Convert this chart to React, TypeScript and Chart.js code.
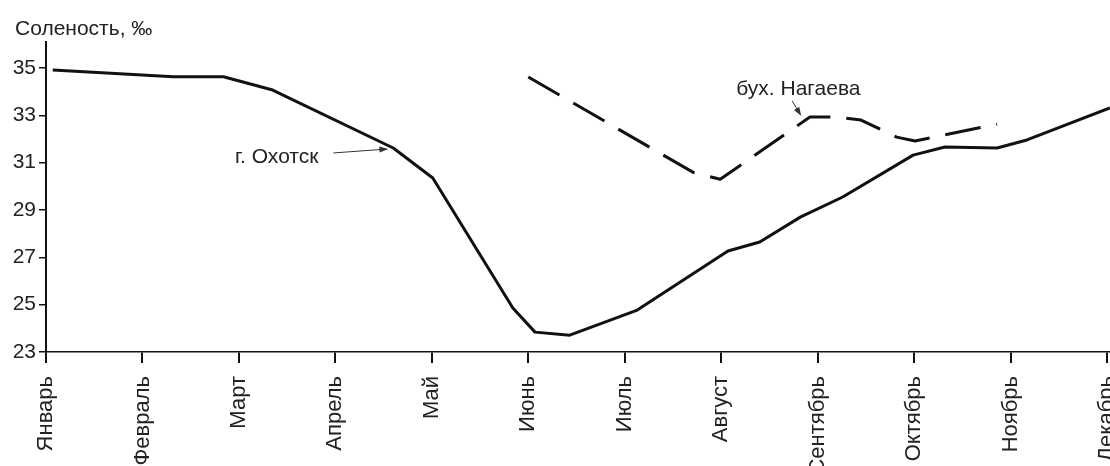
import React, { useEffect, useRef } from "react";
import { Chart, registerables } from "chart.js";

Chart.register(...registerables);

const MONTHS = [
  "Январь", "Февраль", "Март", "Апрель", "Май", "Июнь",
  "Июль", "Август", "Сентябрь", "Октябрь", "Ноябрь", "Декабрь",
];
const Y_TICKS = [23, 25, 27, 29, 31, 33, 35];

// г. Охотск (x = month index, 0 = Январь)
const OKHOTSK_X = [0.07, 1.32, 1.84, 2.35, 3.6, 4.01, 4.84, 5.07, 5.43, 6.13, 7.07, 7.4, 7.82, 8.26, 8.99, 9.32, 9.86, 10.17, 11.03];
const OKHOTSK_Y = [34.92, 34.63, 34.63, 34.07, 31.62, 30.35, 24.86, 23.84, 23.71, 24.77, 27.27, 27.65, 28.7, 29.55, 31.32, 31.66, 31.62, 31.96, 33.31];

// бух. Нагаева
const NAGAEVA_X = [5.0, 6.71, 6.99, 7.92, 8.18, 8.45, 8.82, 9.01, 9.86];
const NAGAEVA_Y = [34.62, 30.59, 30.3, 32.93, 32.93, 32.8, 32.08, 31.92, 32.63];

const Y_TITLE = "Соленость, ‰";
const LABEL_OKHOTSK = "г. Охотск";
const LABEL_NAGAEVA = "бух. Нагаева";

const FONT = '"Liberation Sans", Arial, Helvetica, sans-serif';
const INK = "#111";
const TEXT = "#222";

function drawArrow(ctx: CanvasRenderingContext2D, x1: number, y1: number, x2: number, y2: number) {
  const ang = Math.atan2(y2 - y1, x2 - x1);
  const len = 9;
  const half = 3;
  ctx.beginPath();
  ctx.moveTo(x1, y1);
  ctx.lineTo(x2 - Math.cos(ang) * len * 0.8, y2 - Math.sin(ang) * len * 0.8);
  ctx.lineWidth = 1;
  ctx.strokeStyle = "#333";
  ctx.stroke();
  ctx.beginPath();
  ctx.moveTo(x2, y2);
  ctx.lineTo(x2 - Math.cos(ang) * len - Math.sin(ang) * half, y2 - Math.sin(ang) * len + Math.cos(ang) * half);
  ctx.lineTo(x2 - Math.cos(ang) * len + Math.sin(ang) * half, y2 - Math.sin(ang) * len - Math.cos(ang) * half);
  ctx.closePath();
  ctx.fillStyle = "#333";
  ctx.fill();
}

const annotations = {
  id: "annotations",
  afterDraw(chart: any) {
    const { ctx, scales } = chart;
    const x = scales.x;
    const y = scales.y;
    ctx.save();
    ctx.fillStyle = TEXT;
    ctx.textBaseline = "alphabetic";

    // axis title
    ctx.font = `21px ${FONT}`;
    ctx.textAlign = "left";
    ctx.fillText(Y_TITLE, 15, 35);

    // г. Охотск
    const ox = x.getPixelForValue(3.55);
    const oy = y.getPixelForValue(31.58);
    drawArrow(ctx, ox - 55, oy + 4, ox, oy);
    ctx.fillStyle = TEXT;
    ctx.font = `21px ${FONT}`;
    ctx.textAlign = "right";
    ctx.fillText(LABEL_OKHOTSK, ox - 70, oy + 14);

    // бух. Нагаева
    const nx = x.getPixelForValue(7.83);
    const ny = y.getPixelForValue(32.97);
    drawArrow(ctx, nx - 9, ny - 15, nx, ny);
    ctx.fillStyle = TEXT;
    ctx.font = `21px ${FONT}`;
    ctx.textAlign = "left";
    ctx.fillText(LABEL_NAGAEVA, nx - 65, ny - 21);

    ctx.restore();
  },
};

export default function App() {
  const ref = useRef<HTMLCanvasElement | null>(null);

  useEffect(() => {
    if (!ref.current) return;
    const chart = new Chart(ref.current, {
      type: "line",
      data: {
        datasets: [
          {
            label: LABEL_OKHOTSK,
            data: OKHOTSK_X.map((v, i) => ({ x: v, y: OKHOTSK_Y[i] })),
            borderColor: INK,
            borderWidth: 3,
            pointRadius: 0,
            tension: 0,
            fill: false,
            borderJoinStyle: "round",
          },
          {
            label: LABEL_NAGAEVA,
            data: NAGAEVA_X.map((v, i) => ({ x: v, y: NAGAEVA_Y[i] })),
            borderColor: INK,
            borderWidth: 3,
            borderDash: [36, 16],
            pointRadius: 0,
            tension: 0,
            fill: false,
            borderJoinStyle: "round",
          },
        ],
      },
      options: {
        animation: false,
        responsive: true,
        maintainAspectRatio: false,
        layout: { padding: { top: 42, left: 0, right: 0, bottom: 0 } },
        plugins: {
          legend: { display: false },
          tooltip: { enabled: false },
        },
        scales: {
          x: {
            type: "linear",
            min: 0,
            max: 11.031,
            afterBuildTicks: (s: any) => {
              s.ticks = MONTHS.map((_, i) => ({ value: i }));
            },
            afterFit: (s: any) => {
              s.height = 114;
              s.paddingLeft = 0;
              s.paddingRight = 0;
            },
            grid: { drawOnChartArea: false, drawTicks: true, tickLength: 11, color: INK, lineWidth: 2 },
            border: { display: true, color: INK, width: 1.5 },
            ticks: {
              autoSkip: false,
              minRotation: 90,
              maxRotation: 90,
              padding: 13,
              color: TEXT,
              font: { family: FONT, size: 22 },
              callback: (v: any) => MONTHS[v as number] ?? "",
            },
          },
          y: {
            type: "linear",
            min: 23,
            max: 36.1,
            afterBuildTicks: (s: any) => {
              s.ticks = Y_TICKS.map((v) => ({ value: v }));
            },
            afterFit: (s: any) => {
              s.width = 46;
              s.paddingTop = 0;
              s.paddingBottom = 0;
            },
            grid: { drawOnChartArea: false, drawTicks: true, tickLength: 7, color: INK, lineWidth: 1.5 },
            border: { display: true, color: INK, width: 2 },
            ticks: {
              padding: 3,
              color: TEXT,
              font: { family: FONT, size: 21 },
              callback: (v: any) => String(v),
            },
          },
        },
      },
      plugins: [annotations],
    } as any);
    return () => chart.destroy();
  }, []);

  return (
    <div style={{ position: "absolute", left: 0, top: 0, width: 1110, height: 466, background: "#fff" }}>
      <canvas ref={ref} />
    </div>
  );
}
